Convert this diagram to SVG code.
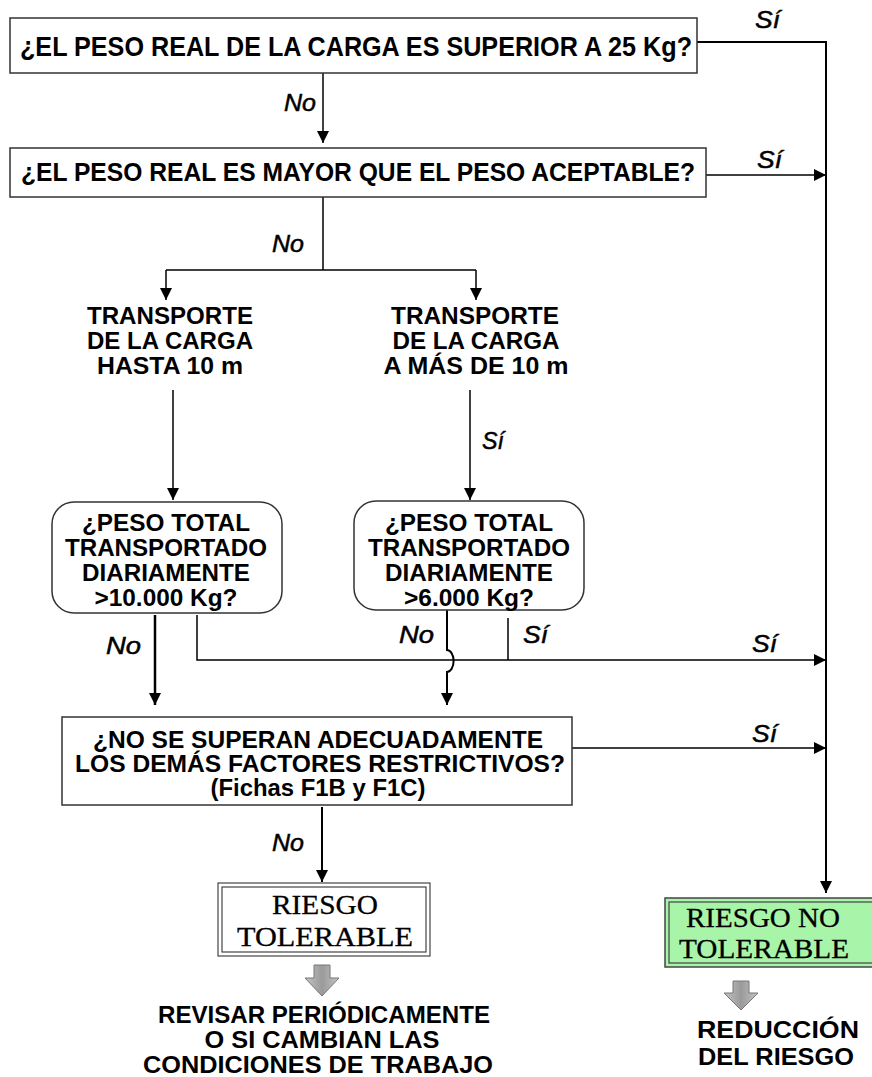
<svg xmlns="http://www.w3.org/2000/svg" width="872" height="1077" viewBox="0 0 872 1077">
<style>
.b{font-family:"Liberation Sans",Arial,sans-serif;font-weight:bold;font-size:24px;fill:#000;text-anchor:middle}
.t{font-size:28px}
.w{font-family:"Liberation Sans",Arial,sans-serif;font-weight:bold;font-size:23px;fill:#000;text-anchor:middle}
.l{font-family:"Liberation Sans",Arial,sans-serif;font-style:italic;font-size:24px;fill:#000;stroke:#000;stroke-width:0.5}
.s{font-family:"Liberation Serif","Times New Roman",serif;font-size:28px;fill:#000;stroke:#000;stroke-width:0.3;text-anchor:middle}
.box{fill:#fff;stroke:#333;stroke-width:1.5}
.ln{fill:none;stroke:#000;stroke-width:1.5}
.tk{fill:none;stroke:#000;stroke-width:2.5}
.ga{fill:url(#g);stroke:#777;stroke-width:1}
</style>
<defs>
<marker id="a2" viewBox="0 0 10 10" refX="10" refY="5" markerWidth="14" markerHeight="12" markerUnits="userSpaceOnUse" orient="auto"><path d="M0,0L10,5L0,10z" fill="#000"/></marker>
<linearGradient id="g" x1="0" y1="0" x2="1" y2="0"><stop offset="0" stop-color="#c4c4c4"/><stop offset="0.5" stop-color="#9a9a9a"/><stop offset="1" stop-color="#c4c4c4"/></linearGradient>
</defs>
<rect width="872" height="1077" fill="#fff"/>

<g id="connectors">
<path class="ln" d="M697,42H826V893" marker-end="url(#a2)" style="stroke-width:2"/>
<path class="ln" d="M323,73V143" marker-end="url(#a2)"/>
<path class="ln" d="M706,175H826" marker-end="url(#a2)"/>
<path class="ln" d="M323,197V270M166,270H476"/>
<path class="ln" d="M166,270V300" marker-end="url(#a2)"/>
<path class="ln" d="M476,270V300" marker-end="url(#a2)"/>
<path class="ln" d="M173,390V500" marker-end="url(#a2)"/>
<path class="ln" d="M470,390V500" marker-end="url(#a2)"/>
<path class="tk" d="M155,615V705" marker-end="url(#a2)"/>
<path class="ln" d="M197,615V660H826" marker-end="url(#a2)"/>
<path class="ln" d="M508,618V660"/>
<path class="ln" d="M447,610V650A6,10 0 0 1 447,672V705" marker-end="url(#a2)" style="stroke-width:2"/>
<path class="ln" d="M572,748H826" marker-end="url(#a2)"/>
<path class="ln" d="M322,807V882" marker-end="url(#a2)" style="stroke-width:2"/>
</g>

<g id="labels">
<text class="l" x="755" y="28" textLength="25" lengthAdjust="spacingAndGlyphs">Sí</text>
<text class="l" x="284" y="111" textLength="32" lengthAdjust="spacingAndGlyphs">No</text>
<text class="l" x="757" y="168" textLength="25" lengthAdjust="spacingAndGlyphs">Sí</text>
<text class="l" x="272" y="252" textLength="32" lengthAdjust="spacingAndGlyphs">No</text>
<text class="l" x="482" y="449" textLength="22" lengthAdjust="spacingAndGlyphs">Sí</text>
<text class="l" x="106" y="654" textLength="35" lengthAdjust="spacingAndGlyphs">No</text>
<text class="l" x="399" y="643" textLength="35" lengthAdjust="spacingAndGlyphs">No</text>
<text class="l" x="523" y="643" textLength="25" lengthAdjust="spacingAndGlyphs">Sí</text>
<text class="l" x="752" y="652" textLength="25" lengthAdjust="spacingAndGlyphs">Sí</text>
<text class="l" x="752" y="742" textLength="25" lengthAdjust="spacingAndGlyphs">Sí</text>
<text class="l" x="272" y="851" textLength="32" lengthAdjust="spacingAndGlyphs">No</text>
</g>

<g id="n1">
<rect class="box" x="10" y="18" width="687" height="55"/>
<text class="b t" x="356" y="56" textLength="672" lengthAdjust="spacingAndGlyphs">¿EL PESO REAL DE LA CARGA ES SUPERIOR A 25 Kg?</text>
</g>
<g id="n2">
<rect class="box" x="10" y="148" width="696" height="49"/>
<text class="b" x="358" y="181" style="font-size:26px" textLength="674" lengthAdjust="spacingAndGlyphs">¿EL PESO REAL ES MAYOR QUE EL PESO ACEPTABLE?</text>
</g>
<g id="n3">
<text class="b" x="170" y="324" textLength="166" lengthAdjust="spacingAndGlyphs">TRANSPORTE</text>
<text class="b" x="170" y="349" textLength="166" lengthAdjust="spacingAndGlyphs">DE LA CARGA</text>
<text class="b" x="170" y="374" textLength="146" lengthAdjust="spacingAndGlyphs">HASTA 10 m</text>
</g>
<g id="n4">
<text class="b" x="475" y="324" textLength="168" lengthAdjust="spacingAndGlyphs">TRANSPORTE</text>
<text class="b" x="476" y="349" textLength="167" lengthAdjust="spacingAndGlyphs">DE LA CARGA</text>
<text class="b" x="476" y="374" textLength="185" lengthAdjust="spacingAndGlyphs">A MÁS DE 10 m</text>
</g>
<g id="n5">
<rect class="box" x="52" y="502" width="230" height="111" rx="22"/>
<text class="b" x="166" y="531" textLength="168" lengthAdjust="spacingAndGlyphs">¿PESO TOTAL</text>
<text class="b" x="166" y="556" textLength="202" lengthAdjust="spacingAndGlyphs">TRANSPORTADO</text>
<text class="b" x="166" y="581" textLength="168" lengthAdjust="spacingAndGlyphs">DIARIAMENTE</text>
<text class="b" x="166" y="606" textLength="143" lengthAdjust="spacingAndGlyphs">&gt;10.000 Kg?</text>
</g>
<g id="n6">
<rect class="box" x="354" y="501" width="230" height="109" rx="22"/>
<text class="b" x="469" y="531" textLength="168" lengthAdjust="spacingAndGlyphs">¿PESO TOTAL</text>
<text class="b" x="469" y="556" textLength="202" lengthAdjust="spacingAndGlyphs">TRANSPORTADO</text>
<text class="b" x="469" y="581" textLength="168" lengthAdjust="spacingAndGlyphs">DIARIAMENTE</text>
<text class="b" x="469" y="606" textLength="130" lengthAdjust="spacingAndGlyphs">&gt;6.000 Kg?</text>
</g>
<g id="n7">
<rect class="box" x="62" y="717" width="510" height="88"/>
<text class="b" x="318" y="748" style="font-size:23px" textLength="450" lengthAdjust="spacingAndGlyphs">¿NO SE SUPERAN ADECUADAMENTE</text>
<text class="b" x="320" y="772" style="font-size:23px" textLength="490" lengthAdjust="spacingAndGlyphs">LOS DEMÁS FACTORES RESTRICTIVOS?</text>
<text class="b" x="318" y="796" style="font-size:23px" textLength="215" lengthAdjust="spacingAndGlyphs">(Fichas F1B y F1C)</text>
</g>
<g id="n8">
<rect x="218" y="883" width="212" height="73" fill="#fff" stroke="#444" stroke-width="1.2"/>
<rect x="222" y="887" width="204" height="65" fill="none" stroke="#444" stroke-width="1.2"/>
<text class="s" x="325" y="914" textLength="106" lengthAdjust="spacingAndGlyphs">RIESGO</text>
<text class="s" x="325" y="946" textLength="176" lengthAdjust="spacingAndGlyphs">TOLERABLE</text>
</g>
<g id="n9">
<rect x="665" y="898" width="212" height="69" fill="#a8f4a8" stroke="#444" stroke-width="1.5"/>
<rect x="669" y="902" width="212" height="61" fill="none" stroke="#444" stroke-width="1.2"/>
<text class="s" x="763" y="927" textLength="154" lengthAdjust="spacingAndGlyphs">RIESGO NO</text>
<text class="s" x="764" y="958" textLength="170" lengthAdjust="spacingAndGlyphs">TOLERABLE</text>
</g>
<g id="n10">
<path class="ga" d="M314,965H330V978H339L322,996L305,978H314Z"/>
<text class="w" x="324" y="1023" textLength="332" lengthAdjust="spacingAndGlyphs">REVISAR PERIÓDICAMENTE</text>
<text class="w" x="322" y="1048" textLength="235" lengthAdjust="spacingAndGlyphs">O SI CAMBIAN LAS</text>
<text class="w" x="318" y="1073" textLength="350" lengthAdjust="spacingAndGlyphs">CONDICIONES DE TRABAJO</text>
</g>
<g id="n11">
<path class="ga" d="M733,981H749V993H758L741,1010L724,993H733Z"/>
<text class="w" x="778" y="1038" textLength="162" lengthAdjust="spacingAndGlyphs">REDUCCIÓN</text>
<text class="w" x="776" y="1065" textLength="156" lengthAdjust="spacingAndGlyphs">DEL RIESGO</text>
</g>
</svg>
